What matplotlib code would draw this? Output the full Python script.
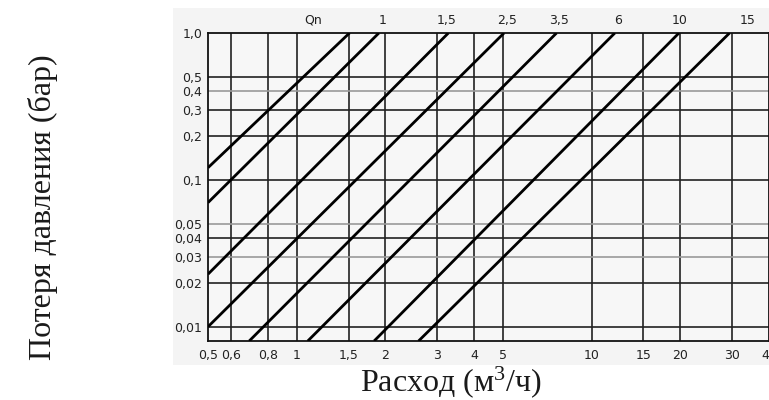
import matplotlib
matplotlib.use("Agg")
import matplotlib.pyplot as plt
from matplotlib.patches import Rectangle
from matplotlib.transforms import blended_transform_factory

# ---- data ----
x_ticks = [0.5, 0.6, 0.8, 1, 1.5, 2, 3, 4, 5, 10, 15, 20, 30, 40]
x_tick_labels = ["0,5", "0,6", "0,8", "1", "1,5", "2", "3", "4", "5",
                 "10", "15", "20", "30", "40"]
y_ticks = [1.0, 0.5, 0.4, 0.3, 0.2, 0.1, 0.05, 0.04, 0.03, 0.02, 0.01]
y_tick_labels = ["1,0", "0,5", "0,4", "0,3", "0,2", "0,1",
                 "0,05", "0,04", "0,03", "0,02", "0,01"]
y_light = [0.4, 0.05, 0.03]

# each line: start (Q, dp) and end (Q, dp)
line_q_start = [0.5, 0.5, 0.5, 0.5, 0.69, 1.09, 1.83, 2.59]
line_p_start = [0.121, 0.070, 0.0228, 0.010, 0.008, 0.008, 0.008, 0.008]
line_q_end = [1.51, 1.90, 3.27, 5.05, 7.61, 12.0, 19.8, 29.4]
line_p_end = [1.0, 1.0, 1.0, 1.0, 1.0, 1.0, 1.0, 1.0]

top_labels = ["Qn", "1", "1,5", "2,5", "3,5", "6", "10", "15"]
top_label_q = [1.14, 1.96, 3.22, 5.17, 7.74, 12.3, 19.9, 33.8]

plt.rcParams['mathtext.fontset'] = 'custom'
plt.rcParams['mathtext.rm'] = 'Liberation Serif'
plt.rcParams['mathtext.it'] = 'Liberation Serif'

tick_font = ['DejaVu Sans']

fig = plt.figure(figsize=(7.69, 4.0), dpi=100)
fig.patch.set_facecolor('white')
bg = Rectangle((173 / 769, 1 - 365 / 400), 1 - 173 / 769, (365 - 8) / 400,
               transform=fig.transFigure, facecolor='#f4f4f4',
               edgecolor='none', zorder=-10)
fig.patches.append(bg)

ax = fig.add_axes([208 / 769, 1 - 341 / 400, 1 - 208 / 769, 308 / 400])
ax.set_zorder(1)
ax.set_facecolor('#f7f7f7')
ax.set_xscale('log')
ax.set_yscale('log')
ax.set_xlim(0.5, 40)
ax.set_ylim(0.008, 1.0)

for xv in x_ticks[1:-1]:
    ax.axvline(xv, color='#222222', lw=1.2, zorder=1)
for yv in y_ticks[1:]:
    c = '#9a9a9a' if yv in y_light else '#222222'
    ax.axhline(yv, color=c, lw=1.2, zorder=1)

for qs, ps, qe, pe in zip(line_q_start, line_p_start, line_q_end, line_p_end):
    ax.plot([qs, qe], [ps, pe], color='black', lw=2.0,
            solid_capstyle='butt', zorder=3)

ax.minorticks_off()
ax.set_xticks(x_ticks)
ax.set_xticklabels(x_tick_labels, family=tick_font, fontsize=9, color='#222222')
ax.set_yticks(y_ticks)
ax.set_yticklabels(y_tick_labels, family=tick_font, fontsize=9, color='#222222')
ax.tick_params(axis='both', which='both', length=0)
ax.tick_params(axis='x', pad=6)
ax.tick_params(axis='y', pad=4)

for s in ax.spines.values():
    s.set_color('#111111')
    s.set_linewidth(1.3)

trans = blended_transform_factory(ax.transData, ax.transAxes)
for lab, q in zip(top_labels, top_label_q):
    ax.text(q, 1.042, lab, transform=trans, ha='center', va='center',
            family=tick_font, fontsize=9, color='#222222')

fig.text(43 / 769, 1 - 207 / 400, "Потеря давления (бар)", rotation=90,
         ha='center', va='center', family='Liberation Serif', fontsize=23,
         color='#1a1a1a')
fig.text(451 / 769, 1 - 382 / 400, "Расход (м$^{3}$/ч)",
         ha='center', va='center', family='Liberation Serif', fontsize=23,
         color='#1a1a1a')

fig.savefig("out.png", dpi=100)
